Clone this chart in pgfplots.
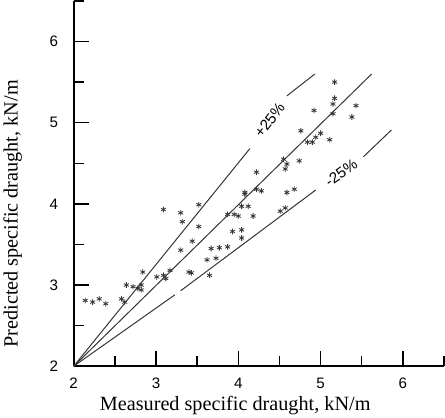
\documentclass[border=0pt]{standalone}
\usepackage{pgfplots}
\pgfplotsset{compat=1.18}
\usepackage{fontspec}
\setmainfont{Liberation Serif}
\newfontfamily\tickfont{Liberation Sans}
\definecolor{ink}{RGB}{55,55,55}
\begin{document}
\begin{tikzpicture}
\begin{axis}[
    scale only axis,
    width=365bp, height=360bp,
    xmin=2, xmax=6.5, ymin=2, ymax=6.5,
    axis lines=left,
    axis line style={-, line width=1.8pt},
    xtick={2,3,4,5,6}, ytick={2,3,4,5,6},
    minor xtick={2.5,3.5,4.5,5.5,6.5},
    minor ytick={2.5,3.5,4.5,5.5,6.5},
    tick align=inside,
    major tick length=15bp, minor tick length=10bp,
    major tick style={line width=1.4pt, black},
    minor tick style={line width=1.4pt, black},
    tick label style={font=\fontsize{15}{17}\selectfont\tickfont},
    /pgf/number format/assume math mode=true,
    xticklabel style={yshift=-8bp},
    yticklabel style={xshift=-12bp},
    xlabel={Measured specific draught, kN/m},
    ylabel={Predicted specific draught, kN/m},
    label style={font=\fontsize{20}{22}\selectfont},
    xlabel style={at={(axis description cs:0.436,-0.12)}, anchor=base},
    ylabel style={at={(axis description cs:-0.13,0.417)}},
    clip=false,
]
% 1:1 and +/-25% lines
\addplot[ink, line width=1pt] coordinates {(2,2) (5.62,5.6)};
\addplot[ink, line width=1pt] coordinates {(2,2) (4.14,4.68)};
\addplot[ink, line width=1pt] coordinates {(2,2) (3.23,2.88)};
\addplot[ink, line width=1pt] coordinates {(3.30,2.93) (4.94,4.17)};
\addplot[ink, line width=1pt] coordinates {(4.59,5.33) (4.93,5.60)};
\addplot[ink, line width=1pt] coordinates {(5.52,4.58) (5.86,4.91)};
% measured vs predicted
\addplot[only marks, mark=asterisk, mark size=2.8pt, ink, line width=0.8pt] coordinates {
(2.14,2.81) (2.23,2.79) (2.31,2.83) (2.39,2.77) (2.58,2.83) (2.62,2.79)
(2.64,3.00) (2.72,2.98) (2.78,2.96) (2.82,3.00) (2.82,2.94) (2.84,3.16)
(3.01,3.10) (3.09,3.12) (3.17,3.18) (3.12,3.08) (3.40,3.16) (3.43,3.15)
(3.30,3.43) (3.44,3.54) (3.52,3.72) (3.09,3.93) (3.30,3.89) (3.32,3.78)
(3.52,3.99) (3.65,3.12) (3.62,3.31) (3.73,3.33) (3.67,3.45) (3.77,3.46)
(3.87,3.47) (3.93,3.66) (4.04,3.68) (4.04,3.58) (3.87,3.87) (3.95,3.87)
(4.00,3.85) (4.04,3.97) (4.08,4.12) (4.12,3.97) (4.18,3.85) (4.08,4.14)
(4.22,4.18) (4.28,4.16) (4.22,4.39) (4.51,3.91) (4.57,3.95) (4.59,4.14)
(4.68,4.18) (4.55,4.55) (4.57,4.43) (4.74,4.53) (4.59,4.49) (4.76,4.90)
(4.84,4.76) (4.94,4.82) (4.90,4.76) (5.00,4.87) (5.11,4.79) (4.92,5.15)
(5.15,5.11) (5.15,5.23) (5.17,5.30) (5.17,5.50) (5.38,5.07) (5.43,5.21)
};
% band labels
\node[rotate=52, font=\fontsize{15}{17}\selectfont\tickfont] at (axis cs:4.38,5.03) {+25\%};
\node[rotate=35, font=\fontsize{15}{17}\selectfont\tickfont] at (axis cs:5.25,4.38) {-25\%};
\end{axis}
\end{tikzpicture}
\end{document}
